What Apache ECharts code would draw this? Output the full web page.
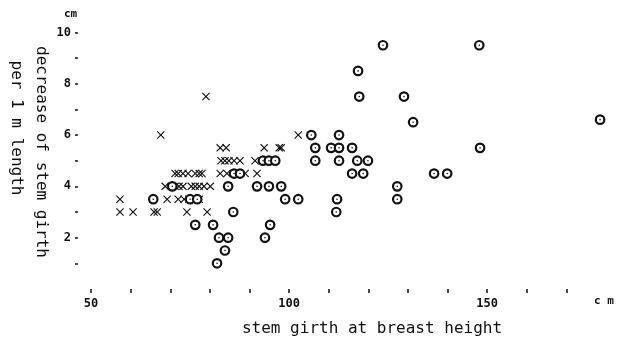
<!DOCTYPE html>
<html>
<head>
<meta charset="utf-8">
<script src="https://cdn.jsdelivr.net/npm/echarts@6/dist/echarts.min.js"></script>
<style>
html,body{margin:0;padding:0;background:#fff;}
#chart{width:618px;height:337px;}
</style>
</head>
<body>
<div id="chart"></div>
<script>
// Data: [stem girth at breast height (cm), decrease of stem girth per 1 m length (cm)]
var crossPoints = [
  [57.3,3],[60.6,3],[65.9,3],[66.7,3],[74.2,3],[79.3,3],
  [57.3,3.5],[69.2,3.5],[72.0,3.5],[73.5,3.5],[74.7,3.5],[76.0,3.5],[77.3,3.5],
  [68.7,4],[71.2,4],[72.2,4],[73.2,4],[75.3,4],[76.3,4],[77.3,4],[78.5,4],[80.1,4],[84.6,4],
  [71.2,4.5],[72.0,4.5],[73.2,4.5],[74.5,4.5],[76.3,4.5],[77.3,4.5],[78.0,4.5],[82.6,4.5],[84.3,4.5],[88.9,4.5],[91.9,4.5],
  [82.8,5],[83.8,5],[84.8,5],[86.1,5],[87.6,5],[91.4,5],
  [82.6,5.5],[84.1,5.5],[93.7,5.5],[97.5,5.5],[98.0,5.5],
  [67.6,6],[102.3,6],
  [79.0,7.5]
];
var circlePoints = [
  [81.8,1],
  [83.8,1.5],
  [82.3,2],[84.6,2],[93.9,2],
  [76.3,2.5],[80.8,2.5],[95.2,2.5],
  [85.9,3],[111.9,3],
  [65.7,3.5],[75.0,3.5],[76.8,3.5],[99.0,3.5],[102.3,3.5],[112.1,3.5],[127.3,3.5],
  [70.5,4],[84.6,4],[91.9,4],[94.9,4],[98.0,4],[127.3,4],
  [86.1,4.5],[87.6,4.5],[115.9,4.5],[118.7,4.5],[136.6,4.5],[139.9,4.5],
  [93.4,5],[94.9,5],[96.5,5],[106.6,5],[112.6,5],[117.2,5],[119.9,5],
  [106.6,5.5],[110.6,5.5],[112.6,5.5],[115.9,5.5],[148.2,5.5],
  [105.6,6],[112.6,6],
  [131.3,6.5],[178.5,6.6],
  [117.7,7.5],[129.0,7.5],
  [117.4,8.5],
  [123.7,9.5],[148.0,9.5]
];
var xTickValues = [50,60,70,80,90,100,110,120,130,140,150,160,170];
var xLabelValues = [50,100,150];
var yTickValues = [1,2,3,4,5,6,7,8,9,10];
var yLabelValues = [2,4,6,8,10];
var xTitle = 'stem girth at breast height';
var yTitle1 = 'decrease of stem girth';
var yTitle2 = 'per 1 m length';
var unitLabel = 'cm';
var unitLabelX = 'c m';

var FONT = '"DejaVu Sans Mono", "Liberation Mono", monospace';
var INK = '#111';
var crossPath = 'path://M1,0L5,4L9,0L10,1L6,5L10,9L9,10L5,6L1,10L0,9L4,5L0,1Z';

var chart = echarts.init(document.getElementById('chart'), null, {renderer:'canvas'});
chart.setOption({
  animation: false,
  backgroundColor: '#fff',
  grid: {left: 78, right: 12, top: 17, bottom: 48, containLabel: false},
  xAxis: {
    type: 'value', min: 46.7, max: 180,
    axisLine: {show: false},
    splitLine: {show: false},
    axisTick: {show: true, length: 4, customValues: xTickValues, lineStyle: {color: INK, width: 1.5}},
    axisLabel: {show: true, customValues: xLabelValues, margin: 9, color: INK,
      fontFamily: FONT, fontSize: 12, fontWeight: 'bold'}
  },
  yAxis: {
    type: 'value', min: 0, max: 10.6,
    axisLine: {show: false},
    splitLine: {show: false},
    axisTick: {show: true, length: 3, customValues: yTickValues, lineStyle: {color: INK, width: 1.5}},
    axisLabel: {show: true, customValues: yLabelValues, margin: 7, color: INK,
      fontFamily: FONT, fontSize: 12, fontWeight: 'bold'}
  },
  series: [
    {
      name: 'x', type: 'scatter', data: crossPoints,
      symbol: crossPath, symbolSize: 8,
      itemStyle: {color: INK, opacity: 1},
      clip: false, silent: true
    },
    {
      name: 'o', type: 'scatter', data: circlePoints,
      symbol: 'circle', symbolSize: 8.5,
      itemStyle: {color: '#fff', borderColor: INK, borderWidth: 2.2, opacity: 1},
      clip: false, silent: true, z: 3
    },
    {
      name: 'o-dot', type: 'scatter', data: circlePoints,
      symbol: 'circle', symbolSize: 1.6,
      itemStyle: {color: INK, opacity: 1},
      clip: false, silent: true, z: 4
    }
  ],
  graphic: [
    {type: 'text', left: 64, top: 9, style: {text: unitLabel, font: 'bold 11px ' + FONT, fill: INK}},
    {type: 'text', left: 594, top: 296, style: {text: unitLabelX, font: 'bold 11px ' + FONT, fill: INK}},
    {type: 'text', x: 372, y: 329, style: {text: xTitle, font: '16px ' + FONT, fill: INK, align: 'center', verticalAlign: 'middle'}},
    {type: 'text', x: 41, y: 152, rotation: -Math.PI/2, style: {text: yTitle1, font: '16px ' + FONT, fill: INK, align: 'center', verticalAlign: 'middle'}},
    {type: 'text', x: 16, y: 128, rotation: -Math.PI/2, style: {text: yTitle2, font: '16px ' + FONT, fill: INK, align: 'center', verticalAlign: 'middle'}}
  ]
});
</script>
</body>
</html>
